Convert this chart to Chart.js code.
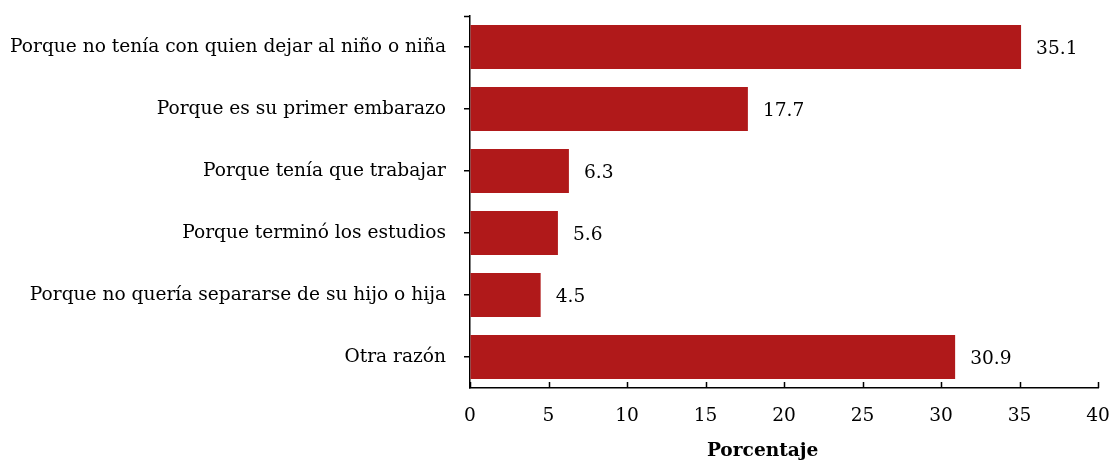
<!DOCTYPE html>
<html>
<head>
<meta charset="utf-8">
<script src="https://cdn.jsdelivr.net/npm/chart.js@4/dist/chart.umd.min.js"></script>
<style>
  html, body { margin: 0; padding: 0; background: #fff; }
  #wrap { width: 1113px; height: 462px; position: relative; }
</style>
</head>
<body>
<div id="wrap"><canvas id="barChart"></canvas></div>
<script>
/* ── Razones – horizontal bar chart ── */

const categories = [
  'Porque no tenía con quien dejar al niño o niña',
  'Porque es su primer embarazo',
  'Porque tenía que trabajar',
  'Porque terminó los estudios',
  'Porque no quería separarse de su hijo o hija',
  'Otra razón',
];
const values = [35.1, 17.7, 6.3, 5.6, 4.5, 30.9];
const xTicks = [0, 5, 10, 15, 20, 25, 30, 35, 40];
const xTitle = 'Porcentaje';

const FONT = "'DejaVu Serif', 'Liberation Serif', serif";
const SIZE = 18.6;
const BAR_COLOR = '#b0191a';

Chart.defaults.font.family = FONT;
Chart.defaults.color = '#000';

// value labels to the right of each bar + x axis title
const valueLabels = {
  id: 'valueLabels',
  afterDatasetsDraw(chart) {
    const { ctx, chartArea } = chart;
    const meta = chart.getDatasetMeta(0);
    ctx.save();
    ctx.font = `${SIZE}px ${FONT}`;
    ctx.fillStyle = '#000';
    ctx.textAlign = 'left';
    ctx.textBaseline = 'middle';
    meta.data.forEach((bar, i) => {
      ctx.fillText(values[i].toFixed(1), bar.x + 15, bar.y + 2);
    });
    ctx.font = `bold ${SIZE}px ${FONT}`;
    ctx.textAlign = 'center';
    ctx.fillText(xTitle, chartArea.left + chartArea.width * 0.466, chartArea.bottom + 63);
    ctx.restore();
  },
};

// inward x ticks and the top tick on the category axis
const axisTicks = {
  id: 'axisTicks',
  afterDraw(chart) {
    const { ctx, chartArea } = chart;
    const xs = chart.scales.x;
    ctx.save();
    ctx.strokeStyle = '#000';
    ctx.lineWidth = 1.5;
    ctx.beginPath();
    xTicks.forEach(t => {
      const px = Math.round(xs.getPixelForValue(t)) + 0.5;
      ctx.moveTo(px, chartArea.bottom);
      ctx.lineTo(px, chartArea.bottom - 6);
    });
    ctx.moveTo(chartArea.left, chartArea.top + 0.5);
    ctx.lineTo(chartArea.left - 6, chartArea.top + 0.5);
    ctx.stroke();
    ctx.restore();
  },
};

new Chart(document.getElementById('barChart'), {
  type: 'bar',
  data: {
    labels: categories,
    datasets: [{
      data: values,
      backgroundColor: BAR_COLOR,
      borderWidth: 0,
      categoryPercentage: 0.71,
      barPercentage: 1,
    }],
  },
  options: {
    indexAxis: 'y',
    responsive: true,
    maintainAspectRatio: false,
    animation: false,
    layout: { autoPadding: false, padding: { top: 16, right: 15, left: 0, bottom: 0 } },
    plugins: { legend: { display: false }, tooltip: { enabled: false } },
    scales: {
      x: {
        min: 0, max: 40,
        afterBuildTicks: s => { s.ticks = xTicks.map(v => ({ value: v })); },
        afterFit: s => { s.height = 74; s.paddingLeft = 0; s.paddingRight = 0; },
        border: { color: '#000', width: 1.5 },
        grid: { drawOnChartArea: false, drawTicks: false },
        ticks: { font: { size: SIZE }, padding: 17, color: '#000', maxRotation: 0 },
      },
      y: {
        afterFit: s => { s.width = 470; s.paddingTop = 0; s.paddingBottom = 0; },
        border: { color: '#000', width: 1.5 },
        grid: { drawOnChartArea: false, offset: false, tickLength: 6, color: '#000', lineWidth: 1.5 },
        ticks: { font: { size: SIZE }, padding: 18, color: '#000' },
      },
    },
  },
  plugins: [valueLabels, axisTicks],
});
</script>
</body>
</html>
